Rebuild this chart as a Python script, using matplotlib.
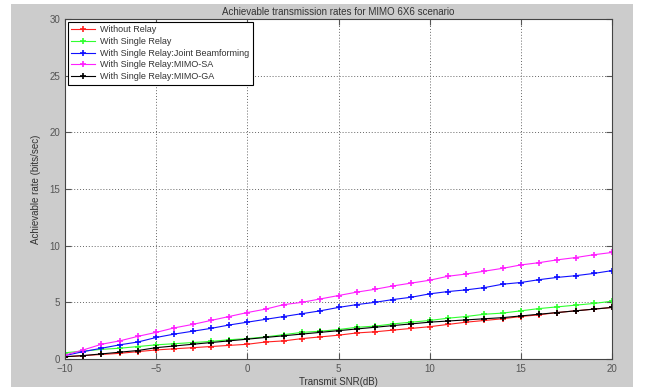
import numpy as np
import matplotlib.pyplot as plt
from matplotlib.patches import Rectangle

plt.rcParams['font.family'] = ['Liberation Sans', 'DejaVu Sans']

# Transmit SNR in dB, one point per dB
snr_db = np.arange(-10, 21)

without_relay = [0.2, 0.3, 0.4, 0.5, 0.65, 0.8, 0.9, 1.0, 1.1, 1.2, 1.3,
                 1.5, 1.6, 1.8, 1.95, 2.1, 2.3, 2.4, 2.55, 2.7, 2.85,
                 3.05, 3.25, 3.4, 3.55, 3.75, 3.9, 4.1, 4.25, 4.4, 4.55]
single_relay = [0.55, 0.7, 0.85, 0.95, 1.1, 1.25, 1.35, 1.45, 1.55, 1.7, 1.8,
                1.95, 2.15, 2.35, 2.45, 2.6, 2.8, 2.9, 3.1, 3.25, 3.4,
                3.6, 3.75, 3.95, 4.05, 4.25, 4.45, 4.6, 4.75, 4.9, 5.1]
joint_bf = [0.3, 0.65, 0.95, 1.25, 1.5, 1.9, 2.2, 2.45, 2.7, 3.0, 3.25,
            3.5, 3.75, 4.0, 4.25, 4.55, 4.8, 5.0, 5.25, 5.45, 5.75,
            5.95, 6.1, 6.3, 6.6, 6.75, 7.0, 7.2, 7.35, 7.55, 7.8]
mimo_sa = [0.35, 0.8, 1.3, 1.6, 2.0, 2.35, 2.75, 3.05, 3.4, 3.75, 4.1,
           4.4, 4.8, 5.0, 5.3, 5.6, 5.9, 6.15, 6.45, 6.7, 6.95,
           7.3, 7.5, 7.75, 8.0, 8.3, 8.5, 8.75, 8.95, 9.2, 9.4]
mimo_ga = [0.2, 0.3, 0.45, 0.6, 0.75, 1.0, 1.15, 1.3, 1.45, 1.6, 1.75,
           1.9, 2.05, 2.2, 2.35, 2.5, 2.65, 2.8, 2.95, 3.1, 3.25,
           3.35, 3.45, 3.55, 3.65, 3.8, 3.95, 4.1, 4.25, 4.4, 4.55]

series = [
    ('Without Relay', without_relay, '#ff2020'),
    ('With Single Relay', single_relay, '#30ff30'),
    ('With Single Relay:Joint Beamforming', joint_bf, '#1010ff'),
    ('With Single Relay:MIMO-SA', mimo_sa, '#ff20ff'),
    ('With Single Relay:MIMO-GA', mimo_ga, '#000000'),
]

fig = plt.figure(figsize=(6.46, 3.87), dpi=100)
fig.patch.set_facecolor('white')
# grey window background
fig.patches.append(Rectangle((11 / 646, 0), 622 / 646, 383 / 387,
                             transform=fig.transFigure, facecolor='#cccccc',
                             edgecolor='none', zorder=-10))

ax = fig.add_axes([65 / 646, 1 - 359 / 387, 547 / 646, 340 / 387])
ax.set_facecolor('white')

for name, vals, col in series:
    ax.plot(snr_db, vals, '-', color=col, lw=0.8, marker='+', ms=4.5,
            mew=1.2, label=name)

ax.set_xlim(-10, 20)
ax.set_ylim(0, 30)
ax.set_xticks(range(-10, 21, 5))
ax.set_yticks(range(0, 31, 5))
ax.grid(True, linestyle=(0, (1, 2)), color='#666666', lw=0.7)
ax.tick_params(direction='in', length=4, labelsize=7, colors='#555555',
               top=True, right=True, labeltop=False, labelright=False)
for s in ax.spines.values():
    s.set_color('#444444')
    s.set_linewidth(0.8)

ax.set_title('Achievable transmission rates for MIMO 6X6 scenario',
             fontsize=7, color='#333333', pad=3)
ax.set_xlabel('Transmit SNR(dB)', fontsize=7, color='#333333', labelpad=2)
ax.set_ylabel('Achievable rate (bits/sec)', fontsize=7, color='#333333',
              labelpad=6)

leg = ax.legend(loc='upper left', fontsize=6.5, fancybox=False, framealpha=1,
                edgecolor='black', borderaxespad=0.3, handlelength=2.6,
                handletextpad=0.6, labelspacing=0.3, borderpad=0.4)
leg.get_frame().set_linewidth(0.8)
for t in leg.get_texts():
    t.set_color('#333333')

fig.savefig('out.png', dpi=100)
